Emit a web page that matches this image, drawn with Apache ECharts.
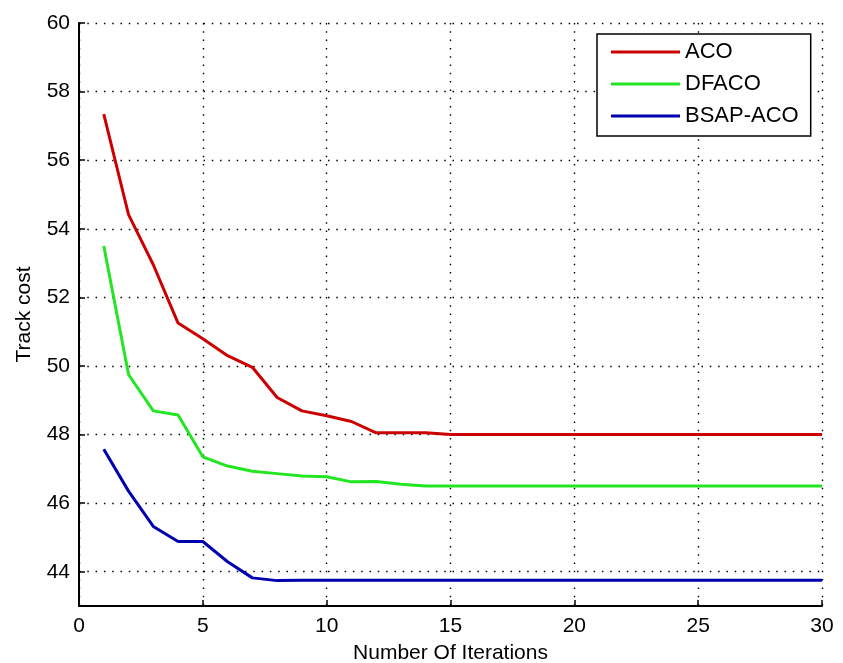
<!DOCTYPE html>
<html>
<head>
<meta charset="utf-8">
<script src="https://cdn.jsdelivr.net/npm/echarts@6/dist/echarts.min.js"></script>
<style>
html,body{margin:0;padding:0;background:#fff;}
#chart{width:843px;height:663px;}
</style>
</head>
<body>
<div id="chart"></div>
<script>
var iterations = [1,2,3,4,5,6,7,8,9,10,11,12,13,14,15,16,17,18,19,20,21,22,23,24,25,26,27,28,29,30];
var aco   = [57.34,54.41,52.95,51.25,50.79,50.30,49.96,49.08,48.69,48.55,48.38,48.05,48.05,48.05,48.0,48.0,48.0,48.0,48.0,48.0,48.0,48.0,48.0,48.0,48.0,48.0,48.0,48.0,48.0,48.0];
var dfaco = [53.50,49.75,48.69,48.57,47.35,47.08,46.93,46.86,46.79,46.77,46.62,46.63,46.55,46.5,46.5,46.5,46.5,46.5,46.5,46.5,46.5,46.5,46.5,46.5,46.5,46.5,46.5,46.5,46.5,46.5];
var bsap  = [47.57,46.35,45.32,44.88,44.88,44.29,43.82,43.74,43.75,43.75,43.75,43.75,43.75,43.75,43.75,43.75,43.75,43.75,43.75,43.75,43.75,43.75,43.75,43.75,43.75,43.75,43.75,43.75,43.75,43.75];
var seriesNames = ['ACO','DFACO','BSAP-ACO'];
var yTicks = [44,46,48,50,52,54,56,58,60];
var xTitle = 'Number Of Iterations';
var yTitle = 'Track cost';

function pairs(ys){ return iterations.map(function(x,i){ return [x, ys[i]]; }); }

var font = 'Liberation Sans, Arial, sans-serif';
var dotted = {color:'#000', width:1.4, type:[1.5,6.8]};
var chart = echarts.init(document.getElementById('chart'), null, {renderer:'canvas'});
chart.setOption({
  animation:false,
  backgroundColor:'#fff',
  grid:{left:79, right:21, top:23, bottom:57, containLabel:false, outerBoundsMode:'none'},
  legend:{
    orient:'vertical', left:597, top:34, align:'left',
    width:215,
    backgroundColor:'#fff', borderColor:'#000', borderWidth:1.5,
    padding:[7,12,9,14],
    itemWidth:69, itemHeight:3, itemGap:10, icon:'rect',
    textStyle:{fontFamily:font, fontSize:22, color:'#000', lineHeight:22},
    data:seriesNames
  },
  xAxis:{
    type:'value', min:0, max:30, interval:5,
    name:xTitle, nameLocation:'middle', nameGap:37,
    nameTextStyle:{fontFamily:font, fontSize:21, color:'#000'},
    axisLine:{show:true, lineStyle:{color:'#000', width:2}},
    axisTick:{show:true, inside:true, length:6, lineStyle:{color:'#000', width:1.5}},
    axisLabel:{fontFamily:font, fontSize:21, color:'#000', margin:10},
    splitLine:{show:true, lineStyle:dotted}
  },
  yAxis:{
    type:'value', min:43, max:60,
    name:yTitle, nameLocation:'middle', nameGap:44,
    nameTextStyle:{fontFamily:font, fontSize:21, color:'#000'},
    axisLine:{show:true, lineStyle:{color:'#000', width:2}},
    axisTick:{show:true, inside:true, length:6, customValues:yTicks, lineStyle:{color:'#000', width:1.5}},
    axisLabel:{fontFamily:font, fontSize:21, color:'#000', margin:9, customValues:yTicks},
    splitLine:{show:true, lineStyle:dotted}
  },
  series:[
    {name:seriesNames[0], type:'line', data:pairs(aco), symbol:'none', lineStyle:{color:'#cc0000', width:3}, itemStyle:{color:'#cc0000'}},
    {name:seriesNames[1], type:'line', data:pairs(dfaco), symbol:'none', lineStyle:{color:'#22e622', width:3}, itemStyle:{color:'#22e622'}},
    {name:seriesNames[2], type:'line', data:pairs(bsap), symbol:'none', lineStyle:{color:'#0000b0', width:3}, itemStyle:{color:'#0000b0'}}
  ]
});
</script>
</body>
</html>
